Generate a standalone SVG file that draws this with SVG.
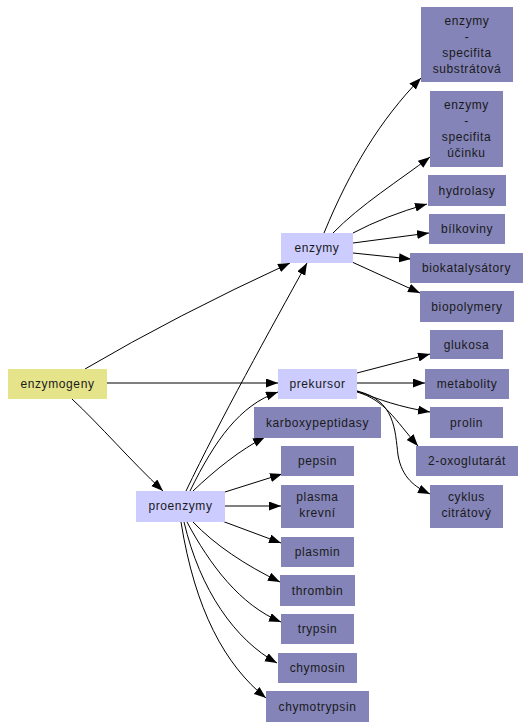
<svg xmlns="http://www.w3.org/2000/svg" width="530" height="728" viewBox="0 0 530 728">
<defs>
<marker id="ah" markerUnits="userSpaceOnUse" markerWidth="13" markerHeight="10" refX="12" refY="4.5" orient="auto">
<path d="M0,0 L12,4.5 L0,9 z" fill="#000"/>
</marker>
<style>
.e{fill:none;stroke:#000;stroke-width:1;marker-end:url(#ah)}
.d{fill:#8484b8}
.l{fill:#ccccff}
.y{fill:#e6e48a}
text{font-family:"Liberation Sans",Arial,sans-serif;font-size:12px;fill:#1a1a1a;text-anchor:middle;letter-spacing:0.6px}
</style>
</defs>
<rect width="530" height="728" fill="#fff"/>
<g id="connectors">
<path class="e" d="M85,369 Q175,316 290,263"/>
<path class="e" d="M107,383 L278,383"/>
<path class="e" d="M72,399 C100,425 130,460 163,491"/>
<path class="e" d="M186,491 C220,420 270,330 307,263"/>
<path class="e" d="M190,491 C215,440 240,405 278,392"/>
<path class="e" d="M193,491 C215,470 240,450 265,437"/>
<path class="e" d="M225,492 L282,474"/>
<path class="e" d="M225,506 L281,506"/>
<path class="e" d="M222,521 L281,543"/>
<path class="e" d="M193,522 C215,545 245,565 280,582"/>
<path class="e" d="M187,522 C210,565 240,605 281,622"/>
<path class="e" d="M184,522 C200,590 235,640 277,663"/>
<path class="e" d="M181,522 C195,610 225,665 266,698"/>
<path class="e" d="M324,233 C350,170 380,120 421,78"/>
<path class="e" d="M333,233 C360,205 400,180 430,157"/>
<path class="e" d="M353,233 Q385,216 427,204"/>
<path class="e" d="M353,243 L429,233"/>
<path class="e" d="M353,253 L411,259"/>
<path class="e" d="M352,262 L420,293"/>
<path class="e" d="M357,373 L430,354"/>
<path class="e" d="M357,383 L425,383"/>
<path class="e" d="M357,391 C380,400 400,407 430,412"/>
<path class="e" d="M357,392 C385,400 395,420 418,446"/>
<path class="e" d="M357,391 C395,400 395,430 398,455 C402,478 415,487 430,494"/>
</g>
<g id="enzymogeny"><rect class="y" x="8" y="369" width="99" height="30"/><text x="57.5" y="388">enzymogeny</text></g>
<g id="enzymy"><rect class="l" x="281" y="233" width="72" height="30"/><text x="317" y="252">enzymy</text></g>
<g id="prekursor"><rect class="l" x="278" y="369" width="79" height="30"/><text x="317.5" y="388">prekursor</text></g>
<g id="proenzymy"><rect class="l" x="136" y="491" width="89" height="31"/><text x="180.5" y="510">proenzymy</text></g>
<g id="substratova"><rect class="d" x="421" y="7" width="92" height="75"/><text x="467" y="25">enzymy</text><text x="467" y="41">-</text><text x="467" y="57">specifita</text><text x="467" y="73">substrátová</text></g>
<g id="ucinku"><rect class="d" x="430" y="91" width="73" height="76"/><text x="466.5" y="109">enzymy</text><text x="466.5" y="125">-</text><text x="466.5" y="141">specifita</text><text x="466.5" y="157">účinku</text></g>
<g id="hydrolasy"><rect class="d" x="428" y="175" width="78" height="31"/><text x="467" y="194.5">hydrolasy</text></g>
<g id="bilkoviny"><rect class="d" x="429" y="214" width="76" height="30"/><text x="467" y="233">bílkoviny</text></g>
<g id="biokatalysatory"><rect class="d" x="410" y="253" width="113" height="30"/><text x="466.5" y="272">biokatalysátory</text></g>
<g id="biopolymery"><rect class="d" x="420" y="291" width="94" height="31"/><text x="467" y="310.5">biopolymery</text></g>
<g id="glukosa"><rect class="d" x="430" y="330" width="73" height="29"/><text x="466.5" y="348.5">glukosa</text></g>
<g id="metabolity"><rect class="d" x="425" y="369" width="84" height="30"/><text x="467" y="388">metabolity</text></g>
<g id="prolin"><rect class="d" x="430" y="407" width="73" height="31"/><text x="466.5" y="426.5">prolin</text></g>
<g id="oxoglutarat"><rect class="d" x="416" y="446" width="102" height="30"/><text x="467" y="465">2-oxoglutarát</text></g>
<g id="cyklus"><rect class="d" x="430" y="485" width="73" height="43"/><text x="466.5" y="501">cyklus</text><text x="466.5" y="517">citrátový</text></g>
<g id="karboxypeptidasy"><rect class="d" x="254" y="407" width="127" height="31"/><text x="317.5" y="426.5">karboxypeptidasy</text></g>
<g id="pepsin"><rect class="d" x="281" y="446" width="73" height="30"/><text x="317.5" y="465">pepsin</text></g>
<g id="plasma"><rect class="d" x="281" y="485" width="73" height="43"/><text x="317.5" y="501">plasma</text><text x="317.5" y="517">krevní</text></g>
<g id="plasmin"><rect class="d" x="281" y="537" width="73" height="30"/><text x="317.5" y="556">plasmin</text></g>
<g id="thrombin"><rect class="d" x="280" y="575" width="75" height="31"/><text x="317.5" y="594.5">thrombin</text></g>
<g id="trypsin"><rect class="d" x="281" y="614" width="73" height="30"/><text x="317.5" y="633">trypsin</text></g>
<g id="chymosin"><rect class="d" x="278" y="653" width="79" height="30"/><text x="317.5" y="672">chymosin</text></g>
<g id="chymotrypsin"><rect class="d" x="266" y="691" width="103" height="31"/><text x="317.5" y="710.5">chymotrypsin</text></g>
</svg>
